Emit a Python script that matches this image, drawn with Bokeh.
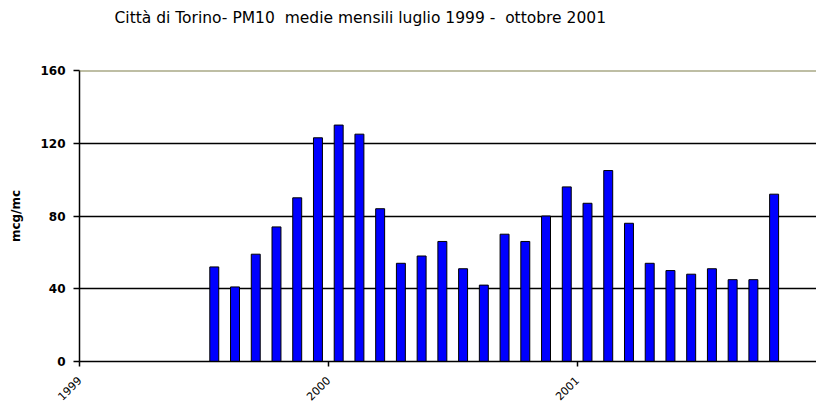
from bokeh.plotting import figure
from bokeh.models import FixedTicker, Span, Label
from bokeh.layouts import column
from bokeh.embed import file_html
from bokeh.resources import INLINE
import math

# Monthly PM10 means, Torino, July 1999 - October 2001 (mcg/mc)
years = [1999] * 6 + [2000] * 12 + [2001] * 10
months = list(range(7, 13)) + list(range(1, 13)) + list(range(1, 11))
pm10 = [52, 41, 59, 74, 90, 123, 130, 125, 84, 54, 58, 66, 51, 42,
        70, 66, 80, 96, 87, 105, 76, 54, 50, 48, 51, 45, 45, 92]

year_ticks = [1999, 2000, 2001]
y_ticks = [0, 40, 80, 120, 160]

# bar centres at mid-month, expressed in decimal years
x_pos = [y + (m - 0.5) / 12.0 for y, m in zip(years, months)]

# --- title strip: a bare figure holding only the heading text ---
# its frame is aligned with the chart frame below (x from 79 to 816 px)
head = figure(width=816, height=40, output_backend="svg", toolbar_location=None,
              x_range=(79, 816), y_range=(0, 40), min_border=0,
              x_axis_type=None, y_axis_type=None)
head.grid.visible = False
head.outline_line_color = None
head.background_fill_color = "white"
head.border_fill_color = "white"

nb = "\u00a0"
title_text = ("Città di Torino- PM10" + nb + nb + "medie mensili luglio 1999 -"
              + nb + nb + "ottobre 2001")
head.add_layout(Label(x=114, y=23, text=title_text,
                      text_font="DejaVu Sans", text_font_size="15.5px",
                      text_baseline="alphabetic", text_align="left",
                      text_color="black"))

# --- main bar chart ---
p = figure(width=816, height=372, output_backend="svg", toolbar_location=None,
           x_range=(1999, 2001.962), y_range=(0, 160),
           min_border_left=79, min_border_right=0,
           min_border_top=30, min_border_bottom=51)
p.outline_line_color = None
p.background_fill_color = "white"
p.border_fill_color = "white"

p.vbar(x=x_pos, top=pm10, width=0.036, bottom=0,
       fill_color="#0000ff", line_color="black", line_width=1)

# horizontal grid
p.xgrid.visible = False
p.ygrid.ticker = FixedTicker(ticks=[40, 80, 120])
p.ygrid.grid_line_color = "black"
p.ygrid.grid_line_width = 1.3
p.ygrid.level = "underlay"

top_line = Span(location=160, dimension="width", line_color="#7f7f4a",
                line_width=2)
p.add_layout(top_line)

# y axis
ya = p.yaxis[0]
ya.ticker = FixedTicker(ticks=y_ticks)
ya.axis_line_color = "black"
ya.axis_line_width = 1.5
ya.major_tick_line_color = "black"
ya.major_tick_line_width = 1.5
ya.major_tick_out = 6
ya.major_tick_in = 0
ya.minor_tick_line_color = None
ya.major_label_text_font = "DejaVu Sans"
ya.major_label_text_font_size = "12px"
ya.major_label_text_font_style = "bold"
ya.major_label_text_color = "black"
ya.major_label_standoff = 8
ya.axis_label = "mcg/mc"
ya.axis_label_text_font = "DejaVu Sans"
ya.axis_label_text_font_size = "12px"
ya.axis_label_text_font_style = "bold"
ya.axis_label_text_color = "black"
ya.axis_label_standoff = 14

# x axis
xa = p.xaxis[0]
xa.ticker = FixedTicker(ticks=year_ticks)
xa.major_label_overrides = {t: str(t) for t in year_ticks}
xa.axis_line_color = "black"
xa.axis_line_width = 1.5
xa.major_tick_line_color = "black"
xa.major_tick_line_width = 1.5
xa.major_tick_out = 5
xa.major_tick_in = 0
xa.minor_tick_line_color = None
xa.major_label_orientation = math.pi / 4
xa.major_label_text_font = "DejaVu Sans"
xa.major_label_text_font_size = "11px"
xa.major_label_text_font_style = "normal"
xa.major_label_text_color = "black"
xa.major_label_standoff = 12

page = column(head, p, spacing=0)
open("out.html", "w").write(file_html(page, INLINE))
